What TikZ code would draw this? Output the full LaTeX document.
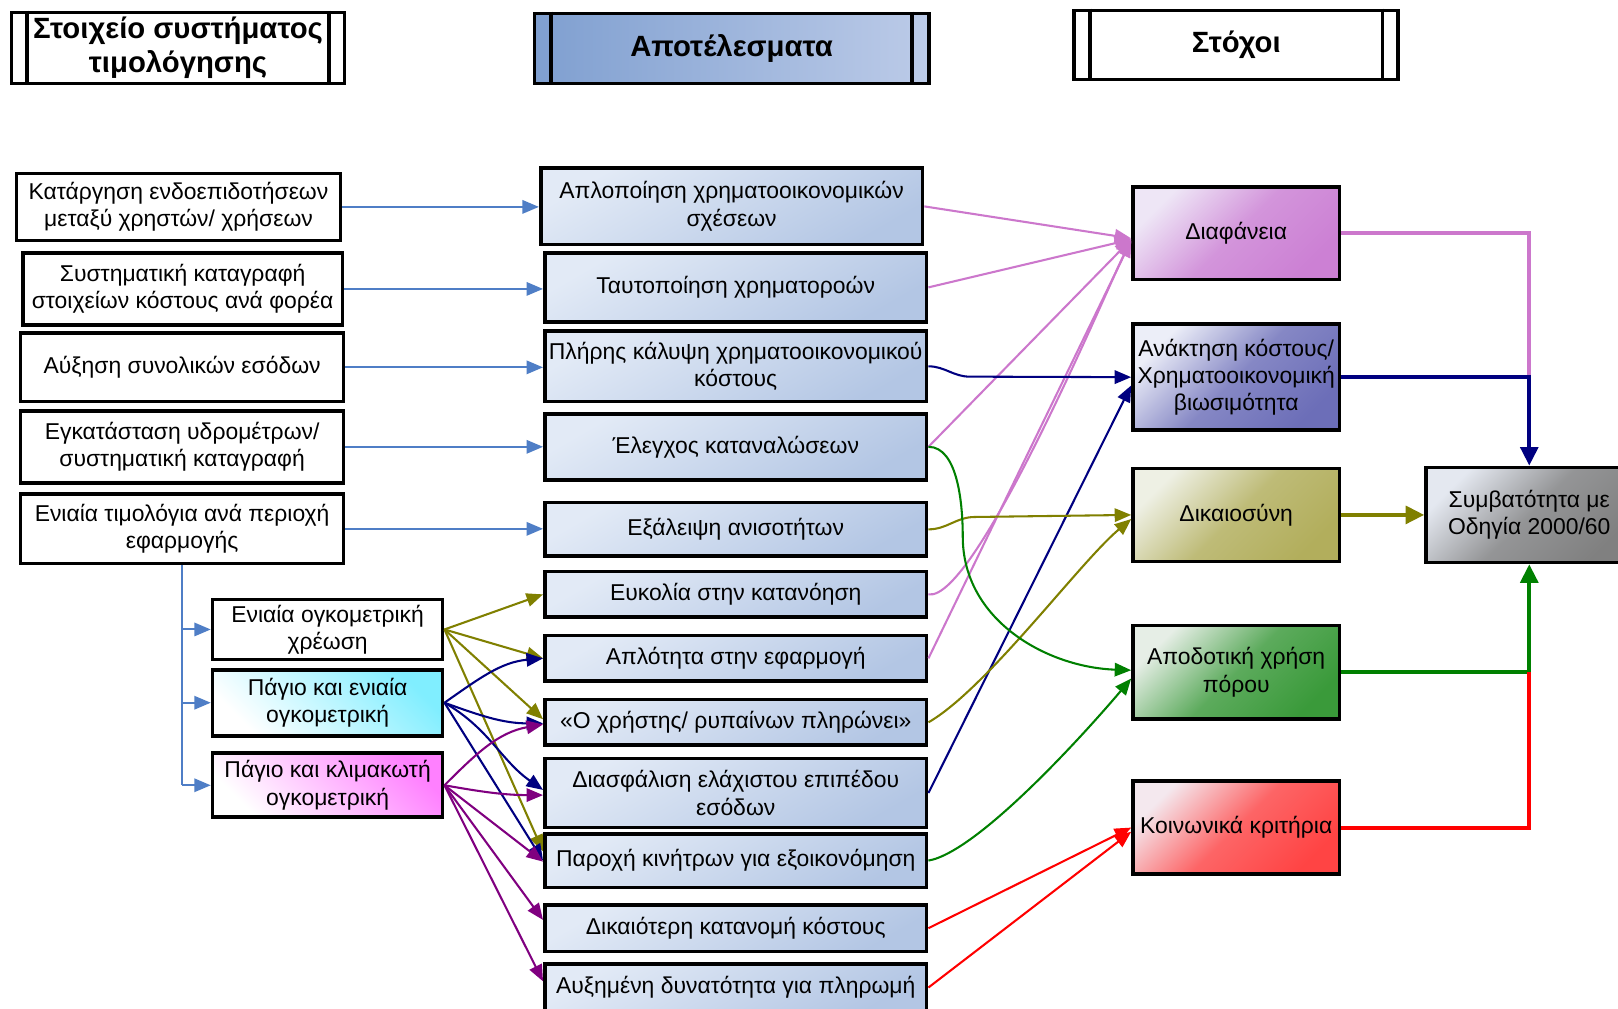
\documentclass[tikz,border=0pt]{standalone}
\usepackage{fontspec}
\setmainfont{Liberation Sans}
\usetikzlibrary{arrows.meta}

% connector colours
\definecolor{linkblue}{HTML}{4F7EC6}
\definecolor{orchidline}{HTML}{CC77CC}
\definecolor{navyline}{HTML}{000080}
\definecolor{oliveline}{HTML}{808000}
\definecolor{greenline}{HTML}{008000}
\definecolor{redline}{HTML}{FF0000}
\definecolor{purpleline}{HTML}{800080}
% box fills
\definecolor{midA}{HTML}{E2EAF6}
\definecolor{midB}{HTML}{B3C6E4}
\definecolor{hdrA}{HTML}{7F9FD0}
\definecolor{hdrB}{HTML}{BCCBE8}
\definecolor{cyanB}{HTML}{80EEFF}
\definecolor{magB}{HTML}{FF80FF}
\definecolor{rOneA}{HTML}{EEE6F6}
\definecolor{rOneB}{HTML}{CC80D4}
\definecolor{rTwoA}{HTML}{ECEEF8}
\definecolor{rTwoB}{HTML}{6C6EB8}
\definecolor{rThreeA}{HTML}{EEF0E4}
\definecolor{rThreeB}{HTML}{B2AE5C}
\definecolor{rFourA}{HTML}{E6EEE6}
\definecolor{rFourB}{HTML}{3A9A3A}
\definecolor{rFiveA}{HTML}{F4E8EE}
\definecolor{rFiveB}{HTML}{FF4444}
\definecolor{rSixA}{HTML}{E4E8F0}
\definecolor{rSixB}{HTML}{808080}

\tikzset{
  box/.style={draw=black, line width=3.5pt, align=center, inner sep=0pt,
    font=\fontsize{22.2}{26.5}\selectfont},
  hdr/.style={draw=black, line width=3.5pt, align=center, inner sep=0pt,
    font=\bfseries\fontsize{28.4}{33}\selectfont},
  leftbox/.style={box, fill=white},
  midbox/.style={box, minimum width=370pt, top color=midA, bottom color=midB, shading angle=30},
  goalbox/.style 2 args={box, minimum width=200pt, top color=#1, bottom color=#2,
    middle color=#2!80!#1, shading angle=45},
  thinarrow/.style={line width=2pt, -{Triangle[length=16pt,width=13pt]}},
  thickline/.style={line width=4pt},
  thickarrow/.style={line width=4pt, -{Triangle[length=18pt,width=17pt]}},
}

\begin{document}
\begin{tikzpicture}[x=1pt,y=1pt]
\path[use as bounding box, clip] (0,0) rectangle (1568,-977);
\fill[white] (0,0) rectangle (1568,-977);

% column headers
\node[hdr, fill=white, minimum width=323pt, minimum height=69pt] (H1) at (172.5,-46.5) {Στοιχείο συστήματος\\τιμολόγησης};
\node[hdr, left color=hdrA, right color=hdrB, minimum width=382pt, minimum height=68pt] (H2) at (709,-47) {Αποτέλεσματα};
\node[hdr, fill=white, minimum width=314pt, minimum height=67pt] (H3) at (1198,-43.5) {Στόχοι};
\foreach \h/\d in {H1/17, H2/18, H3/17}{
  \draw[line width=3.5pt] ([xshift=\d pt]\h.north west) -- ([xshift=\d pt]\h.south west);
  \draw[line width=3.5pt] ([xshift=-\d pt]\h.north east) -- ([xshift=-\d pt]\h.south east);
}

% pricing system elements
\node[leftbox, minimum width=314pt, minimum height=65pt] (L1) at (173,-200.5) {Κατάργηση ενδοεπιδοτήσεων\\μεταξύ χρηστών/ χρήσεων};
\node[leftbox, minimum width=310pt, minimum height=70pt] (L2) at (177,-280) {Συστηματική καταγραφή\\στοιχείων κόστους ανά φορέα};
\node[leftbox, minimum width=313pt, minimum height=66pt] (L3) at (176.5,-356) {Αύξηση συνολικών εσόδων};
\node[leftbox, minimum width=313pt, minimum height=70pt] (L4) at (176.5,-433) {Εγκατάσταση υδρομέτρων/\\συστηματική καταγραφή};
\node[leftbox, minimum width=313pt, minimum height=67pt] (L5) at (176.5,-512.5) {Ενιαία τιμολόγια ανά περιοχή\\εφαρμογής};

% tariff types
\node[leftbox, minimum width=223pt, minimum height=58pt] (S1) at (317.5,-610) {Ενιαία ογκομετρική\\χρέωση};
\node[box, minimum width=223pt, minimum height=64pt, bottom color=white, top color=cyanB, shading angle=-45] (S2) at (317.5,-681) {Πάγιο και ενιαία\\ογκομετρική};
\node[box, minimum width=223pt, minimum height=62pt, bottom color=white, top color=magB, shading angle=-45] (S3) at (317.5,-761) {Πάγιο και κλιμακωτή\\ογκομετρική};

% results
\node[midbox, minimum height=74pt] (M1) at (709,-200) {Απλοποίηση χρηματοοικονομικών\\σχέσεων};
\node[midbox, minimum height=67pt] (M2) at (713,-278.5) {Ταυτοποίηση χρηματοροών};
\node[midbox, minimum height=68pt] (M3) at (713,-355) {Πλήρης κάλυψη χρηματοοικονομικού\\κόστους};
\node[midbox, minimum height=64pt] (M4) at (713,-433) {Έλεγχος καταναλώσεων};
\node[midbox, minimum height=52pt] (M5) at (713,-513) {Εξάλειψη ανισοτήτων};
\node[midbox, minimum height=44pt] (M6) at (713,-576) {Ευκολία στην κατανόηση};
\node[midbox, minimum height=44pt] (M7) at (713,-638) {Απλότητα στην εφαρμογή};
\node[midbox, minimum height=44pt] (M8) at (713,-700) {«Ο χρήστης/ ρυπαίνων πληρώνει»};
\node[midbox, minimum height=67pt] (M9) at (713,-768.5) {Διασφάλιση ελάχιστου επιπέδου\\εσόδων};
\node[midbox, minimum height=52pt] (M10) at (713,-834) {Παροχή κινήτρων για εξοικονόμηση};
\node[midbox, minimum height=45pt] (M11) at (713,-899.5) {Δικαιότερη κατανομή κόστους};
\node[midbox, minimum height=46pt] (M12) at (713,-957) {Αυξημένη δυνατότητα για πληρωμή};

% goals
\node[goalbox={rOneA}{rOneB}, minimum height=90pt] (R1) at (1198,-226) {Διαφάνεια};
\node[goalbox={rTwoA}{rTwoB}, minimum height=103pt] (R2) at (1198,-365.5) {Ανάκτηση κόστους/\\Χρηματοοικονομική\\βιωσιμότητα};
\node[goalbox={rThreeA}{rThreeB}, minimum height=90pt] (R3) at (1198,-499) {Δικαιοσύνη};
\node[goalbox={rFourA}{rFourB}, minimum height=91pt] (R4) at (1198,-651.5) {Αποδοτική χρήση\\πόρου};
\node[goalbox={rFiveA}{rFiveB}, minimum height=90pt] (R5) at (1198,-802) {Κοινωνικά κριτήρια};
\node[goalbox={rSixA}{rSixB}, minimum height=92pt] (R6) at (1482,-499) {Συμβατότητα με\\Οδηγία 2000/60};

% elements to results
\foreach \i in {1,...,5}
  \draw[thinarrow, linkblue] (L\i.east) -- (L\i.east -| M\i.west);
\draw[line width=2pt, linkblue] (L5.south) -- (L5.south |- S3.west);
\foreach \s in {S1,S2,S3}
  \draw[thinarrow, linkblue] (L5.south |- \s.west) -- (\s.west);

% tariff types to results
\draw[thinarrow, oliveline] (S1.east) -- (M6.west);
\draw[thinarrow, oliveline] (S1.east) -- (M7.west);
\draw[thinarrow, oliveline] (S1.east) -- ([yshift=3pt]M8.west);
\draw[thinarrow, oliveline] (S1.east) -- ([yshift=9pt]M10.west);

\draw[thinarrow, navyline] (S2.east) to[out=35,in=185] (M7.west);
\draw[thinarrow, navyline] (S2.east) to[out=-20,in=180] ([yshift=-1pt]M8.west);
\draw[thinarrow, navyline] (S2.east) to[out=-30,in=145] ([yshift=3pt]M9.west);
\draw[thinarrow, navyline] (S2.east) -- (M10.west);

\draw[thinarrow, purpleline] (S3.east) to[out=45,in=190] ([yshift=-2pt]M8.west);
\draw[thinarrow, purpleline] (S3.east) to[out=-10,in=180] ([yshift=-2pt]M9.west);
\draw[thinarrow, purpleline] (S3.east) -- ([yshift=-1pt]M10.west);
\draw[thinarrow, purpleline] (S3.east) -- ([yshift=8pt]M11.west);
\draw[thinarrow, purpleline] (S3.east) -- ([yshift=6pt]M12.west);

% results to goals
\draw[thinarrow, orchidline] (M1.east) -- ([yshift=-5pt]R1.west);
\draw[thinarrow, orchidline] (M2.east) -- ([yshift=-6pt]R1.west);
\draw[thinarrow, orchidline] (M4.east) -- ([yshift=-6pt]R1.west);
\draw[thinarrow, orchidline] (M6.east) to[out=-10,in=-117,looseness=0.3] ([yshift=-7pt]R1.west);
\draw[thinarrow, orchidline] (M7.east) -- ([yshift=-7pt]R1.west);

\draw[thinarrow, navyline] (M3.east) to[out=0,in=180] ([xshift=40pt,yshift=-10pt]M3.east) -- (R2.west);
\draw[thinarrow, navyline] (M9.east) -- ([yshift=-8pt]R2.west);

\draw[thinarrow, oliveline] (M5.east) to[out=0,in=180] ([xshift=45pt,yshift=12pt]M5.east) -- (R3.west);
\draw[thinarrow, oliveline] (M8.east) to[out=30,in=-140,looseness=0.6] ([yshift=-4pt]R3.west);

\coordinate (gbend) at (933,-520);
\draw[thinarrow, greenline] (M4.east) to[out=0,in=90,looseness=0.8] (gbend) to[out=-90,in=178] ([yshift=2pt]R4.west);
\draw[thinarrow, greenline] (M10.east) to[out=10,in=-130,looseness=0.5] ([yshift=-6pt]R4.west);

\draw[thinarrow, redline] (M11.east) -- (R5.west);
\draw[thinarrow, redline] (M12.east) -- ([yshift=-4pt]R5.west);

% goals to compliance
\draw[thickline, orchidline] (R1.east) -| (R2.east -| R6.north);
\draw[thickarrow, navyline] (R2.east) -| (R6.north);
\draw[thickarrow, oliveline] (R3.east) -- (R6.west);
\draw[thickarrow, greenline] (R4.east) -| (R6.south);
\draw[thickline, redline] (R5.east) -| (R4.east -| R6.south);
\end{tikzpicture}
\end{document}
